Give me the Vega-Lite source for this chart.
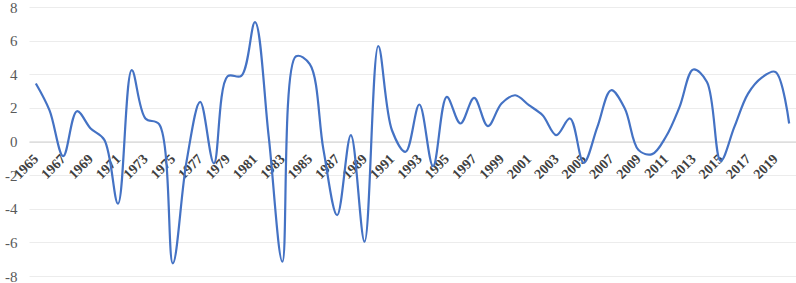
{
  "$schema": "https://vega.github.io/schema/vega-lite/v6.json",
  "width": 767,
  "height": 269,
  "autosize": "none",
  "padding": {"left": 29, "top": 7, "right": 0, "bottom": 7},
  "background": "white",
  "config": {"view": {"stroke": null}},
  "data": {"values": [
    {"year": 1965, "value": 3.45},
    {"year": 1966, "value": 1.85},
    {"year": 1967, "value": -0.87},
    {"year": 1968, "value": 1.8},
    {"year": 1969, "value": 0.77},
    {"year": 1970, "value": 0.1},
    {"year": 1971, "value": -3.7},
    {"year": 1972, "value": 4.24},
    {"year": 1973, "value": 1.37},
    {"year": 1974, "value": 1.03},
    {"year": 1975, "value": -7.25},
    {"year": 1976, "value": -1.2},
    {"year": 1977, "value": 2.36},
    {"year": 1978, "value": -1.3},
    {"year": 1979, "value": 3.88},
    {"year": 1980, "value": 3.9},
    {"year": 1981, "value": 7.1},
    {"year": 1982, "value": 0.3},
    {"year": 1983, "value": -7.15},
    {"year": 1984, "value": 5.07},
    {"year": 1985, "value": 4.6},
    {"year": 1986, "value": -0.5},
    {"year": 1987, "value": -4.38},
    {"year": 1988, "value": 0.38},
    {"year": 1989, "value": -5.96},
    {"year": 1990, "value": 5.68},
    {"year": 1991, "value": 0.67},
    {"year": 1992, "value": -0.61},
    {"year": 1993, "value": 2.2},
    {"year": 1994, "value": -1.47},
    {"year": 1995, "value": 2.65},
    {"year": 1996, "value": 1.07},
    {"year": 1997, "value": 2.59},
    {"year": 1998, "value": 0.91},
    {"year": 1999, "value": 2.26},
    {"year": 2000, "value": 2.75},
    {"year": 2001, "value": 2.16},
    {"year": 2002, "value": 1.56},
    {"year": 2003, "value": 0.38},
    {"year": 2004, "value": 1.37},
    {"year": 2005, "value": -1.27},
    {"year": 2006, "value": 0.87},
    {"year": 2007, "value": 3.05},
    {"year": 2008, "value": 1.96},
    {"year": 2009, "value": -0.51},
    {"year": 2010, "value": -0.75},
    {"year": 2011, "value": 0.28},
    {"year": 2012, "value": 2.06},
    {"year": 2013, "value": 4.28},
    {"year": 2014, "value": 3.54},
    {"year": 2015, "value": -1.15},
    {"year": 2016, "value": 0.87},
    {"year": 2017, "value": 2.85},
    {"year": 2018, "value": 3.8},
    {"year": 2019, "value": 4.14},
    {"year": 2020, "value": 1.07}
  ]},
  "mark": {"type": "line", "interpolate": "catmull-rom", "color": "#4472c4", "strokeWidth": 2.2},
  "encoding": {
    "x": {
      "field": "year", "type": "quantitative",
      "scale": {"domain": [1964.5, 2020.5], "nice": false, "zero": false},
      "axis": {
        "values": [1965,1967,1969,1971,1973,1975,1977,1979,1981,1983,1985,1987,1989,1991,1993,1995,1997,1999,2001,2003,2005,2007,2009,2011,2013,2015,2017,2019],
        "format": "d", "labelAngle": -45, "labelAlign": "right", "labelBaseline": "middle",
        "offset": -134.5, "grid": false, "ticks": false,
        "domainColor": "#d0d0d0", "domainWidth": 1.2,
        "labelFont": "Liberation Serif", "labelFontWeight": "bold", "labelFontSize": 14,
        "labelColor": "#404040", "labelPadding": 15, "labelOverlap": false, "labelFlush": false,
        "title": null
      }
    },
    "y": {
      "field": "value", "type": "quantitative",
      "scale": {"domain": [-8, 8], "nice": false},
      "axis": {
        "values": [-8,-6,-4,-2,0,2,4,6,8],
        "labelExpr": "'' + datum.value",
        "grid": true, "gridColor": "#ececec", "domain": false, "ticks": false,
        "labelPadding": 12, "labelFont": "Liberation Serif", "labelFontSize": 15,
        "labelColor": "#595959", "title": null
      }
    }
  }
}
